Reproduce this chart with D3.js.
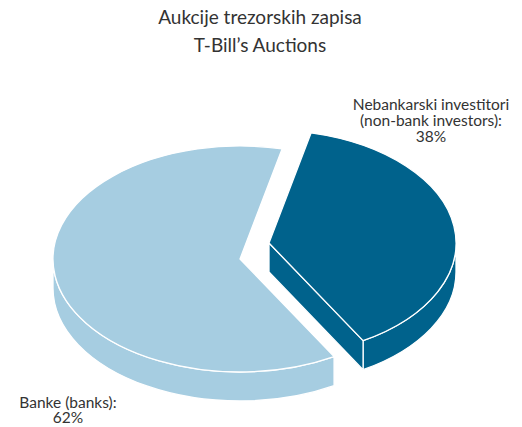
<!DOCTYPE html>
<html>
<head>
<meta charset="utf-8">
<script src="https://cdn.jsdelivr.net/npm/d3@7"></script>
<style>
  body{margin:0;background:#fff;}
  text{font-family:Lato, "Open Sans", sans-serif;fill:#333;}
</style>
</head>
<body>
<div id="chart"></div>
<script>
// data
const titleLines = ["Aukcije trezorskih zapisa", "T-Bill\u2019s Auctions"];
const categories = ["Nebankarski investitori", "Banke"];
const categoryLabels = [["Nebankarski investitori", "(non-bank investors):"], ["Banke (banks):"]];
const shares = [38, 62];
const colors = ["#00628c", "#a6cde1"];

(function(){
    let width=522, height=427;
    let svg=d3.select("#chart").append("svg")
        .attr("width",width)
        .attr("height",height);

    // pie geometry (tilted ellipse + side depth)
    let cx=240, cy=259, R=187, r=113, depth=29;
    let explode=[{x:29,y:-16},{x:0,y:0}];

    let pie=d3.pie().sort(null).value(function(d){return d})
        .startAngle(13*Math.PI/180)
        .endAngle(13*Math.PI/180+2*Math.PI);
    let arcs=pie(shares);

    function pt(t,dz,o){
        return [cx+o.x+R*Math.cos(t), cy+o.y+r*Math.sin(t)+(dz||0)];
    }
    function topPath(t0,t1,o){
        let a=pt(t0,0,o), b=pt(t1,0,o);
        return "M"+(cx+o.x)+","+(cy+o.y)+"L"+a[0]+","+a[1]+
            "A"+R+","+r+" 0 "+((t1-t0)>Math.PI?1:0)+" 1 "+b[0]+","+b[1]+"Z";
    }
    function wallPath(a0,a1,o){
        let a=pt(a0,0,o), b=pt(a1,0,o), c=pt(a1,depth,o), d=pt(a0,depth,o);
        return "M"+a[0]+","+a[1]+"A"+R+","+r+" 0 0 1 "+b[0]+","+b[1]+
            "L"+c[0]+","+c[1]+"A"+R+","+r+" 0 0 0 "+d[0]+","+d[1]+"Z";
    }
    function cutPath(t,o){
        let a=pt(t,0,o), d=pt(t,depth,o);
        return "M"+(cx+o.x)+","+(cy+o.y)+"L"+a[0]+","+a[1]+"L"+d[0]+","+d[1]+
            "L"+(cx+o.x)+","+(cy+o.y+depth)+"Z";
    }

    // draw back slice (light) first, then exploded one
    let order=[1,0];
    order.forEach(function(i){
        let s=arcs[i];
        let o=explode[i];
        let t0=s.startAngle-Math.PI/2, t1=s.endAngle-Math.PI/2;
        let g=svg.append("g");
        //outer wall: only the front half is visible
        [[0,Math.PI],[2*Math.PI,3*Math.PI]].forEach(function(iv){
            let a0=Math.max(t0,iv[0]), a1=Math.min(t1,iv[1]);
            if (a1>a0){
                g.append("path").attr("d",wallPath(a0,a1,o))
                    .attr("fill",colors[i]).attr("stroke","#fff").attr("stroke-width",1.3);
            }
        });
        //cut face at an edge, if it faces the viewer
        if (Math.cos(t1)>0 && Math.sin(t1)>0){
            g.append("path").attr("d",cutPath(t1,o))
                .attr("fill",colors[i]).attr("stroke","#fff").attr("stroke-width",1.3);
        }
        if (Math.cos(t0)<0 && Math.sin(t0)>0){
            g.append("path").attr("d",cutPath(t0,o))
                .attr("fill",colors[i]).attr("stroke","#fff").attr("stroke-width",1.3);
        }
        g.append("path").attr("d",topPath(t0,t1,o))
            .attr("fill",colors[i]).attr("stroke","#fff").attr("stroke-width",1.3)
            .attr("stroke-linejoin","round");
    });

    // title
    svg.selectAll("text.title").data(titleLines).enter().append("text")
        .attr("class","title")
        .attr("x",260).attr("y",function(d,i){return 24+i*28})
        .attr("text-anchor","middle")
        .style("font-size","19px")
        .text(function(d){return d});

    // labels
    let labelPos=[{x:431,y:110,dy:16},{x:68,y:408,dy:15}];
    categoryLabels.forEach(function(lines,i){
        let t=svg.append("text")
            .attr("text-anchor","middle")
            .style("font-size","15.5px");
        lines.concat([shares[i]+"%"]).forEach(function(l,j){
            t.append("tspan").attr("x",labelPos[i].x)
                .attr("y",labelPos[i].y+j*labelPos[i].dy)
                .text(l);
        });
    });
})();
</script>
</body>
</html>
